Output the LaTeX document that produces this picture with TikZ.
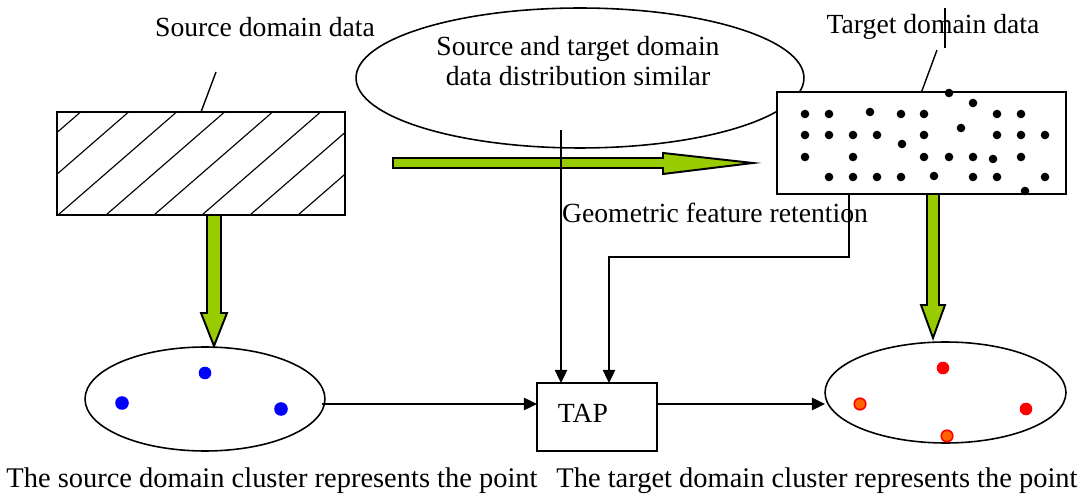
\documentclass[tikz,border=0pt]{standalone}
\usepackage{fontspec}
\setmainfont{Liberation Serif}
\usetikzlibrary{shapes.geometric}
\usetikzlibrary{arrows.meta}
\definecolor{arrowgreen}{RGB}{153,204,0}
\definecolor{dotorange}{RGB}{255,102,0}

\begin{document}
\begin{tikzpicture}[x=0.02cm,y=-0.02cm,
    lbl/.style={font=\fontsize{15.75}{17}\selectfont,inner sep=0pt},
    captext/.style={font=\fontsize{16.2}{18}\selectfont,inner sep=0pt},
    box/.style={draw,line width=1.1pt,inner sep=0pt,outer sep=0pt},
    oval/.style={draw,ellipse,line width=0.9pt,inner sep=0pt,outer sep=0pt},
    conn/.style={line width=1.1pt,-{Triangle[length=7.5pt,width=7pt]}},
    greenarrow/.style={fill=arrowgreen,draw=black,line width=1.1pt,line join=miter}]

            %\draw [help lines] (0,0) grid (1081,499);
            \useasboundingbox (0,0) rectangle (1081,499);

            % labels on top
            \node (srclabel) [lbl] at (265,27) {Source domain data};
            \node (tgtlabel) [lbl] at (933,27) {Target domain data};

            % similarity oval
            \node (simell) [oval,minimum width=8.96cm,minimum height=2.8cm] at (580,78) {};
            \node (simtext) [lbl,align=center] at (578,61) {Source and target domain\\data distribution similar};

            % source data box, hatched
            \node (srcbox) [box,minimum width=5.76cm,minimum height=2.06cm] at (201,163.5) {};
            \begin{scope}
                \clip (srcbox.south west) rectangle (srcbox.north east);
                \foreach \x in {-38,10,...,298}
                    \draw[line width=0.65pt] (\x,215) -- ++(118.6,-103);
            \end{scope}

            % target data box, dotted
            \node (tgtbox) [box,fill=white,minimum width=5.78cm,minimum height=2.04cm] at (921.5,143) {};
            \foreach \p in {(805,114),(829,114),(870,112),(901,114),(924,114),(997,114),(1021,114),
                            (949,93),(973,103),(961,128),(902,144),(993,159),(934,176),(1025,191),
                            (805,135),(829,135),(853,135),(877,135),(924,135),(997,135),(1021,135),(1045,135),
                            (805,157),(853,157),(924,157),(949,157),(973,157),(1021,157),
                            (829,177),(853,177),(877,177),(901,177),(973,177),(997,177),(1045,177)}
                \fill \p circle[radius=4.3];

            % callout lines
            \coordinate (srctick) at (216,72);
            \coordinate (tgttick) at (937,50);
            \draw[line width=0.8pt] (srctick) -- (srcbox.north);
            \draw[line width=0.8pt] (tgttick) -- (tgtbox.north);
            \draw[line width=0.9pt] (945,8) -- (945,48);

            % cluster ovals
            \node (srcclu) [oval,minimum width=4.8cm,minimum height=2.08cm] at (205,399) {};
            \node (tgtclu) [oval,minimum width=4.82cm,minimum height=2.02cm] at (945.5,392.5) {};
            \fill[blue] (205,373) circle[radius=6.3];
            \fill[blue] (122,403) circle[radius=6.8];
            \fill[blue] (281,409) circle[radius=6.8];
            \fill[red] (943,368) circle[radius=6.3];
            \fill[red] (1026,409) circle[radius=6.3];
            \filldraw[fill=dotorange,draw=red,line width=0.9pt] (860,404) circle[radius=5.8];
            \filldraw[fill=dotorange,draw=red,line width=0.9pt] (947,436) circle[radius=5.8];

            % TAP box
            \node (tapbox) [box,minimum width=2.4cm,minimum height=1.36cm] at (597,417) {};
            \node (taptext) [lbl] at (583,413) {TAP};

            % green block arrows
            \draw[greenarrow] (393,158) -- (663,158) -- (663,153) -- (753,163) -- (663,174) -- (663,168) -- (393,168) -- cycle;
            \draw[greenarrow] (207,215) -- (207,313) -- (201,313) -- (214,346) -- (227,313) -- (221,313) -- (221,215) -- cycle;
            \draw[greenarrow] (927,194) -- (927,305) -- (921,305) -- (933,338) -- (945,305) -- (939,305) -- (939,194) -- cycle;

            % connectors
            \coordinate (srcout) at (322,404);
            \coordinate (simdown) at (561,130);
            \coordinate (geostart) at (849,194);
            \coordinate (geobend) at (609,257);
            \draw[conn] (srcout) -- (srcout -| tapbox.west);
            \draw[conn] (tapbox.east |- srcout) -- (tgtclu.west |- srcout);
            \draw[conn] (simdown) -- (simdown |- tapbox.north);
            \draw[conn] (geostart) |- (geobend) -- (geobend |- tapbox.north);

            \node (geolabel) [lbl] at (715,213) {Geometric feature retention};
            \node (srccap) [captext] at (272,481) {The source domain cluster represents the point};
            \node (tgtcap) [captext] at (817,481) {The target domain cluster represents the point};

        \end{tikzpicture}
\end{document}
